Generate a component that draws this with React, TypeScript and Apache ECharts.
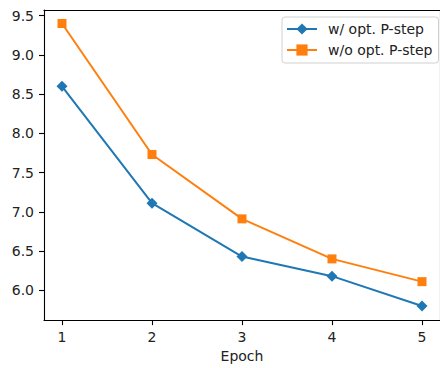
import React, { useEffect, useRef } from "react";
import * as echarts from "echarts";

const epochs = [1, 2, 3, 4, 5];
const withOpt = [8.6, 7.11, 6.43, 6.18, 5.8];
const withoutOpt = [9.4, 7.73, 6.91, 6.4, 6.11];
const yTicks = [6.0, 6.5, 7.0, 7.5, 8.0, 8.5, 9.0, 9.5];
const seriesNames = ["w/ opt. P-step", "w/o opt. P-step"];

const FONT = "DejaVu Sans";
const TXT = "#222";

export default function App() {
  const ref = useRef<HTMLDivElement>(null);
  useEffect(() => {
    document.body.style.margin = "0";
    const chart = echarts.init(ref.current!, null, { renderer: "svg" });
    chart.setOption({
      animation: false,
      backgroundColor: "#fff",
      textStyle: { fontFamily: FONT },
      grid: { left: 44, top: 10, width: 403, height: 313 },
      legend: {
        left: 282,
        top: 17,
        orient: "vertical",
        padding: [4, 6, 5, 4],
        itemGap: 5,
        itemWidth: 30,
        itemHeight: 14,
        backgroundColor: "#fff",
        borderColor: "#d0d0d0",
        borderWidth: 1,
        borderRadius: 3,
        textStyle: { fontFamily: FONT, fontSize: 14, color: TXT, lineHeight: 16, padding: [0, 0, 0, 6] },
        data: seriesNames,
      },
      xAxis: [
        {
          type: "value",
          min: 0.8,
          max: 5.2,
          name: "Epoch",
          nameLocation: "middle",
          nameGap: 27,
          nameTextStyle: { fontFamily: FONT, fontSize: 14, color: TXT },
          axisLine: { show: true, lineStyle: { color: "#000", width: 1.1 } },
          axisTick: { show: true, length: 5, lineStyle: { color: "#000", width: 1.1 }, customValues: epochs },
          axisLabel: { margin: 10, fontFamily: FONT, fontSize: 14, color: TXT, customValues: epochs },
          splitLine: { show: false },
        },
        {
          type: "value",
          position: "top",
          min: 0.8,
          max: 5.2,
          axisLine: { show: true, onZero: false, lineStyle: { color: "#000", width: 1.1 } },
          axisTick: { show: false },
          axisLabel: { show: false },
          splitLine: { show: false },
        },
      ],
      yAxis: [
        {
          type: "value",
          min: 5.62,
          max: 9.572,
          axisLine: { show: true, onZero: false, lineStyle: { color: "#000", width: 1.1 } },
          axisTick: { show: true, length: 5, lineStyle: { color: "#000", width: 1.1 }, customValues: yTicks },
          axisLabel: {
            margin: 10,
            fontFamily: FONT,
            fontSize: 14,
            color: TXT,
            customValues: yTicks,
            formatter: (v: number) => v.toFixed(1),
          },
          splitLine: { show: false },
        },
        {
          type: "value",
          position: "right",
          min: 5.62,
          max: 9.572,
          axisLine: { show: true, onZero: false, lineStyle: { color: "#000", width: 1.1 } },
          axisTick: { show: false },
          axisLabel: { show: false },
          splitLine: { show: false },
        },
      ],
      series: [
        {
          name: seriesNames[0],
          type: "line",
          data: epochs.map((e, i) => [e, withOpt[i]]),
          symbol: "diamond",
          symbolSize: 11,
          lineStyle: { color: "#1f77b4", width: 2 },
          itemStyle: { color: "#1f77b4" },
        },
        {
          name: seriesNames[1],
          type: "line",
          data: epochs.map((e, i) => [e, withoutOpt[i]]),
          symbol: "rect",
          symbolSize: 9,
          lineStyle: { color: "#ff7f0e", width: 2 },
          itemStyle: { color: "#ff7f0e" },
        },
      ],
    });
    return () => chart.dispose();
  }, []);
  return <div ref={ref} style={{ width: 440, height: 368 }} />;
}
